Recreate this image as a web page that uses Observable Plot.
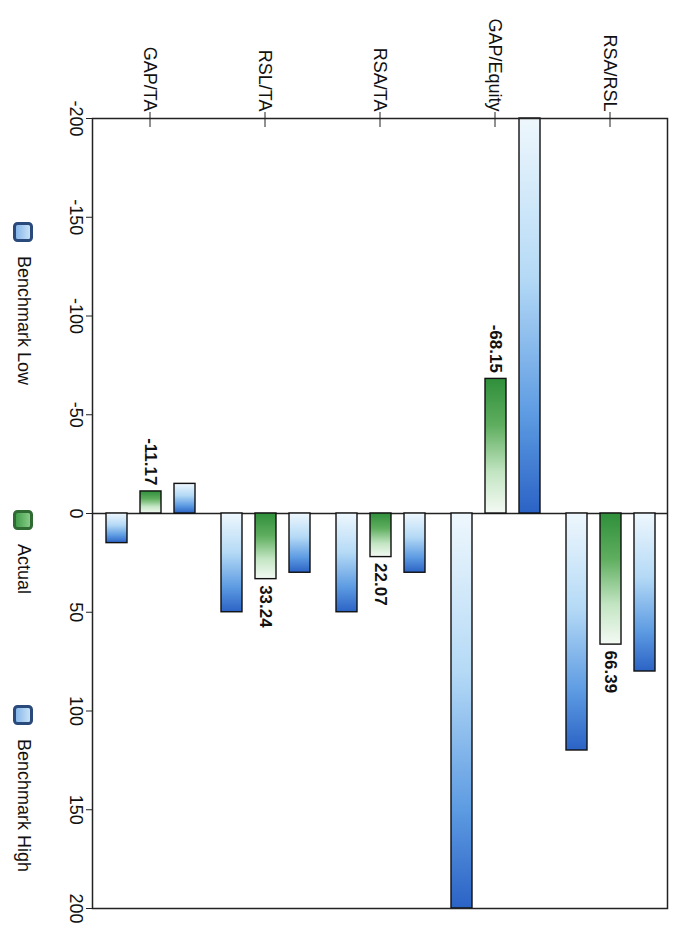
<!DOCTYPE html>
<html>
<head>
<meta charset="utf-8">
<script src="https://cdn.jsdelivr.net/npm/d3@7"></script>
<script src="https://cdn.jsdelivr.net/npm/@observablehq/plot@0.6"></script>
<style>
html, body { margin: 0; padding: 0; background: #fff; overflow: hidden; }
#fig {
  position: absolute; left: 0; top: 0; width: 940px; height: 687px;
  transform-origin: 0 0; transform: translate(687px, 0) rotate(90deg);
  font-family: "Liberation Sans", Arial, sans-serif; color: #111; background: #fff;
}
#legend { position: relative; width: 940px; height: 47px; }
.item { position: absolute; top: 13px; display: flex; align-items: center; font-size: 18px; white-space: nowrap; }
.item svg { margin-right: 14px; }
</style>
</head>
<body>
<svg width="0" height="0" style="position:absolute">
  <defs>
    <linearGradient id="blueGrad" x1="0" y1="0" x2="1" y2="0">
      <stop offset="0%" stop-color="#eef7fd"/>
      <stop offset="40%" stop-color="#b5daf6"/>
      <stop offset="75%" stop-color="#5d9be2"/>
      <stop offset="100%" stop-color="#2b63c5"/>
    </linearGradient>
    <linearGradient id="greenGrad" x1="0" y1="0" x2="1" y2="0">
      <stop offset="0%" stop-color="#2f8f3b"/>
      <stop offset="35%" stop-color="#5fae5f"/>
      <stop offset="70%" stop-color="#c3e5c3"/>
      <stop offset="100%" stop-color="#f4faf4"/>
    </linearGradient>
    <linearGradient id="blueIcon" x1="0" y1="0" x2="0" y2="1">
      <stop offset="0%" stop-color="#cfe6f8"/>
      <stop offset="100%" stop-color="#7fb3e8"/>
    </linearGradient>
    <linearGradient id="greenIcon" x1="0" y1="0" x2="0" y2="1">
      <stop offset="0%" stop-color="#8fd08f"/>
      <stop offset="100%" stop-color="#3a9a45"/>
    </linearGradient>
  </defs>
</svg>
<div id="fig">
  <div id="chart"></div>
  <div id="legend"></div>
</div>
<script>
// ---- data ----
const categories = ["GAP/TA", "RSL/TA", "RSA/TA", "GAP/Equity", "RSA/RSL"];
const benchmarkLow = [-15, 30, 30, -200, 80];
const actual = [-11.17, 33.24, 22.07, -68.15, 66.39];
const benchmarkHigh = [15, 50, 50, 200, 120];
const valueTicks = [-200, -150, -100, -50, 0, 50, 100, 150, 200];
const seriesNames = ["Benchmark Low", "Actual", "Benchmark High"];

const lowRows = categories.map((c, i) => ({category: c, series: seriesNames[0], value: benchmarkLow[i]}));
const actualRows = categories.map((c, i) => ({category: c, series: seriesNames[1], value: actual[i]}));
const highRows = categories.map((c, i) => ({category: c, series: seriesNames[2], value: benchmarkHigh[i]}));

// top-to-bottom order in the (unrotated) horizontal chart
const catOrder = categories.slice().reverse();

const barOpts = {x: "value", y: "category", stroke: "#111", strokeWidth: 1.4, insetTop: 47, insetBottom: 47};

const chart = Plot.plot({
  width: 940,
  height: 640,
  marginLeft: 118,
  marginRight: 32,
  marginTop: 19,
  marginBottom: 46,
  style: {fontFamily: "'Liberation Sans', Arial, sans-serif", fontSize: "18px", color: "#111", background: "transparent"},
  x: {domain: [-200, 200]},
  y: {domain: catOrder, padding: 0},
  marks: [
    Plot.ruleX([0], {stroke: "#222", strokeWidth: 1.5}),
    Plot.barX(lowRows, {...barOpts, fill: "url(#blueGrad)", dy: -34}),
    Plot.barX(actualRows, {...barOpts, fill: "url(#greenGrad)", dy: 0}),
    Plot.barX(highRows, {...barOpts, fill: "url(#blueGrad)", dy: 34}),
    Plot.text(actualRows.filter(d => d.value < 0), {
      x: "value", y: "category", text: d => d.value.toFixed(2),
      textAnchor: "end", dx: -6, fontWeight: "bold", fontSize: 17, fill: "#111"
    }),
    Plot.text(actualRows.filter(d => d.value >= 0), {
      x: "value", y: "category", text: d => d.value.toFixed(2),
      textAnchor: "start", dx: 6, fontWeight: "bold", fontSize: 17, fill: "#111"
    }),
    Plot.axisX({ticks: valueTicks, tickSize: 7, tickPadding: 3, tickFormat: d => String(d), label: null, stroke: "#222"}),
    Plot.axisY({tickSize: 15, tickPadding: 1, dx: 9, label: null, stroke: "#222"}),
    Plot.frame({stroke: "#222", strokeWidth: 1.5})
  ]
});
document.getElementById("chart").appendChild(chart);

// ---- legend ----
const legend = document.getElementById("legend");
const legendLeft = [222, 510, 705];
const iconFill = ["url(#blueIcon)", "url(#greenIcon)", "url(#blueIcon)"];
const iconStroke = ["#2b4a7c", "#2f6b33", "#2b4a7c"];
seriesNames.forEach((name, i) => {
  const item = document.createElement("div");
  item.className = "item";
  item.style.left = legendLeft[i] + "px";
  item.innerHTML = `<svg width="20" height="20"><rect x="1.5" y="1.5" width="17" height="17" rx="3" fill="${iconFill[i]}" stroke="${iconStroke[i]}" stroke-width="3"/></svg><span>${name}</span>`;
  legend.appendChild(item);
});
</script>
</body>
</html>
